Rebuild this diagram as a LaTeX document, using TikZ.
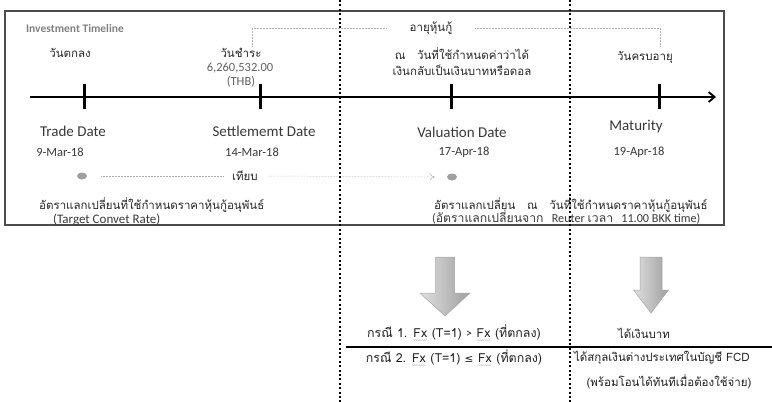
\documentclass[tikz,border=0pt]{standalone}
\usepackage{fontspec}
\setmainfont{Carlito}
\newfontfamily\thai[Script=Thai]{Loma}
\newfontfamily\symf{DejaVu Sans}
\usetikzlibrary{arrows.meta,decorations.pathmorphing,shapes.geometric}

% grey squiggle under a word
\newcommand\squig[1]{\tikz[x=1cm,y=1cm,baseline=(w.base)]{\node[inner sep=0pt] (w) {#1};
  \draw[gray!40,line width=0.45pt,decorate,decoration={snake,amplitude=0.6pt,segment length=1.8pt}]
    ([yshift=-2.2pt]w.south west) -- ([yshift=-2.2pt]w.south east);}}

\tikzset{
  lbl/.style={text=black!78, inner sep=1pt, font=\fontsize{15}{17}\selectfont},
  datelbl/.style={text=black!78, inner sep=1pt, font=\fontsize{12.5}{14}\selectfont},
  thlbl/.style={text=black!85, inner sep=1pt, align=center, font=\thai\fontsize{11.5}{16}\selectfont},
  btm/.style={text=black!88, inner sep=1pt, font=\thai\fontsize{12.4}{14}\selectfont},
  boxline/.style={draw=black!70, line width=1.3pt},
  axisline/.style={line width=1.8pt, -{Straight Barb[length=6pt,width=10pt,line width=1.8pt]}},
  tickmark/.style={line width=3pt},
  sep/.style={line width=2.3pt, dash pattern=on 2pt off 2.4pt},
  brk/.style={draw=gray!60, line width=0.5pt, densely dotted},
  cmp/.style={draw=gray!65, line width=0.5pt, densely dotted},
  dotmark/.style={ellipse, fill=gray!75, minimum width=10pt, minimum height=7pt, inner sep=0pt},
  blockarrow/.style={left color=gray!25, right color=gray!75, draw=gray!70, line width=0.5pt},
}

\begin{document}
\begin{tikzpicture}[x=1pt,y=-1pt]
\useasboundingbox (0,0) rectangle (772,402);

% frame of the timeline panel
\draw[boxline] (5,11) rectangle (724,225);

% main time axis with its four dates
\coordinate (axisL) at (30,97);
\coordinate (axisR) at (716,97);
\draw[axisline] (axisL) -- (axisR);
\foreach \n/\x in {t1/84, t2/260, t3/451, t4/659}{
  \coordinate (\n top) at (\x,84);
  \coordinate (\n bot) at (\x,109);
  \draw[tickmark] (\n top) -- (\n bot);
}

% heading
\node[text=black!50, inner sep=0pt, font=\bfseries\fontsize{11.5}{13}\selectfont] (title) at (75,29) {Investment Timeline};

% labels above the axis
\node[thlbl] (tradeTh) at (70,53) {วันตกลง};
\node[thlbl] (settleTh) at (241,53) {วันชำระ};
\node[lbl, text=black!62, font=\fontsize{12.5}{14}\selectfont] (amount) at (240,68) {6,260,532.00};
\node[lbl, text=black!62, font=\fontsize{12.5}{14}\selectfont] (thb) at (241,82) {(THB)};
\node[thlbl] (valTh) at (462,62) {ณ \ \ วันที่ใช้กำหนดค่าว่าได้\\เงินกลับเป็นเงินบาทหรือดอล};
\node[thlbl] (matTh) at (645,57) {วันครบอายุ};

% bracket for the life of the note
\node[thlbl] (life) at (431,28) {อายุหุ้นกู้};
\coordinate (brL) at (252,46);
\coordinate (brR) at (660,47);
\draw[brk] (brL) |- ([xshift=-23pt]life.west);
\draw[brk] ([xshift=22pt]life.east) -| (brR);

% labels below the axis
\node[lbl] (trade) at (73,131) {Trade Date};
\node[datelbl] (tradeD) at (60,152) {9-Mar-18};
\node[lbl] (settle) at (264,131) {Settlememt Date};
\node[datelbl] (settleD) at (252,152) {14-Mar-18};
\node[lbl] (val) at (462,132) {Valuation Date};
\node[datelbl] (valD) at (464,152) {17-Apr-18};
\node[lbl] (mat) at (636,127) {Maturity};
\node[datelbl] (matD) at (639,152) {19-Apr-18};

% rate comparison
\node[dotmark] (dot1) at (82,176) {};
\node[dotmark] (dot2) at (452,177) {};
\node[thlbl] (cmpl) at (245,176) {เทียบ};
\draw[cmp] ([xshift=14pt]dot1.east) -- ([xshift=-8pt]cmpl.west);
\draw[cmp, -{To[length=5pt,width=7pt]}] ([xshift=8pt]cmpl.east) -- ([xshift=-12pt]dot2.west);

\node[thlbl, inner sep=0pt, anchor=base west] (rate1) at (39,209) {อัตราแลกเปลี่ยนที่ใช้กำหนดราคาหุ้นกู้อนุพันธ์};
\node[datelbl, inner sep=0pt, anchor=base west, font=\fontsize{13}{15}\selectfont] (rate1en) at (53,223) {(Target Convet Rate)};
\node[thlbl, inner sep=0pt, anchor=base west] (rate2) at (434,209) {อัตราแลกเปลี่ยน \ \ ณ \ \ วันที่ใช้กำหนดราคาหุ้นกู้อนุพันธ์};
\node[datelbl, inner sep=0pt, anchor=base west, font=\fontsize{12.2}{13}\selectfont] (rate2en) at (432,222) {({\thai อัตราแลกเปลี่ยนจาก} \ \ Reuter {\thai เวลา} \ \ 11.00 BKK time)};

% vertical dotted separators
\coordinate (s1top) at (340,0);
\coordinate (s1bot) at (340,402);
\coordinate (s2top) at (570,0);
\coordinate (s2bot) at (570,402);
\draw[sep] (s1top) -- (s1bot);
\draw[sep] (s2top) -- (s2bot);

% block arrows
\draw[blockarrow] (435.5,257) -- (454.5,257) -- (454.5,293) -- (470,293) -- (445,316)
  -- (420,293) -- (435.5,293) -- cycle;
\draw[blockarrow] (640,257) -- (662,257) -- (662,290) -- (668.5,290) -- (651,313)
  -- (633.5,290) -- (640,290) -- cycle;

% outcome table
\coordinate (ruleL) at (346,347);
\coordinate (ruleR) at (772,347);
\draw[line width=2.4pt] (ruleL) -- (ruleR);

\node[btm] (case1) at (454,333) {กรณี 1. \squig{Fx} (T=1) {\fontspec{Carlito}>} \squig{Fx} (ที่ตกลง)};
\node[btm] (case2) at (454,358) {กรณี 2. \squig{Fx} (T=1) {\symf\fontsize{10.5}{12}\selectfont ≤} \squig{Fx} (ที่ตกลง)};
\node[btm, font=\thai\fontsize{11.5}{14}\selectfont] (res1) at (644,333) {ได้เงินบาท};
\node[btm, font=\thai\fontsize{11.5}{14}\selectfont] (res2) at (662,358) {ได้สกุลเงินต่างประเทศในบัญชี FCD};
\node[btm, font=\thai\fontsize{11.5}{14}\selectfont] (res3) at (669,382) {(พร้อมโอนได้ทันทีเมื่อต้องใช้จ่าย)};
\end{tikzpicture}
\end{document}
